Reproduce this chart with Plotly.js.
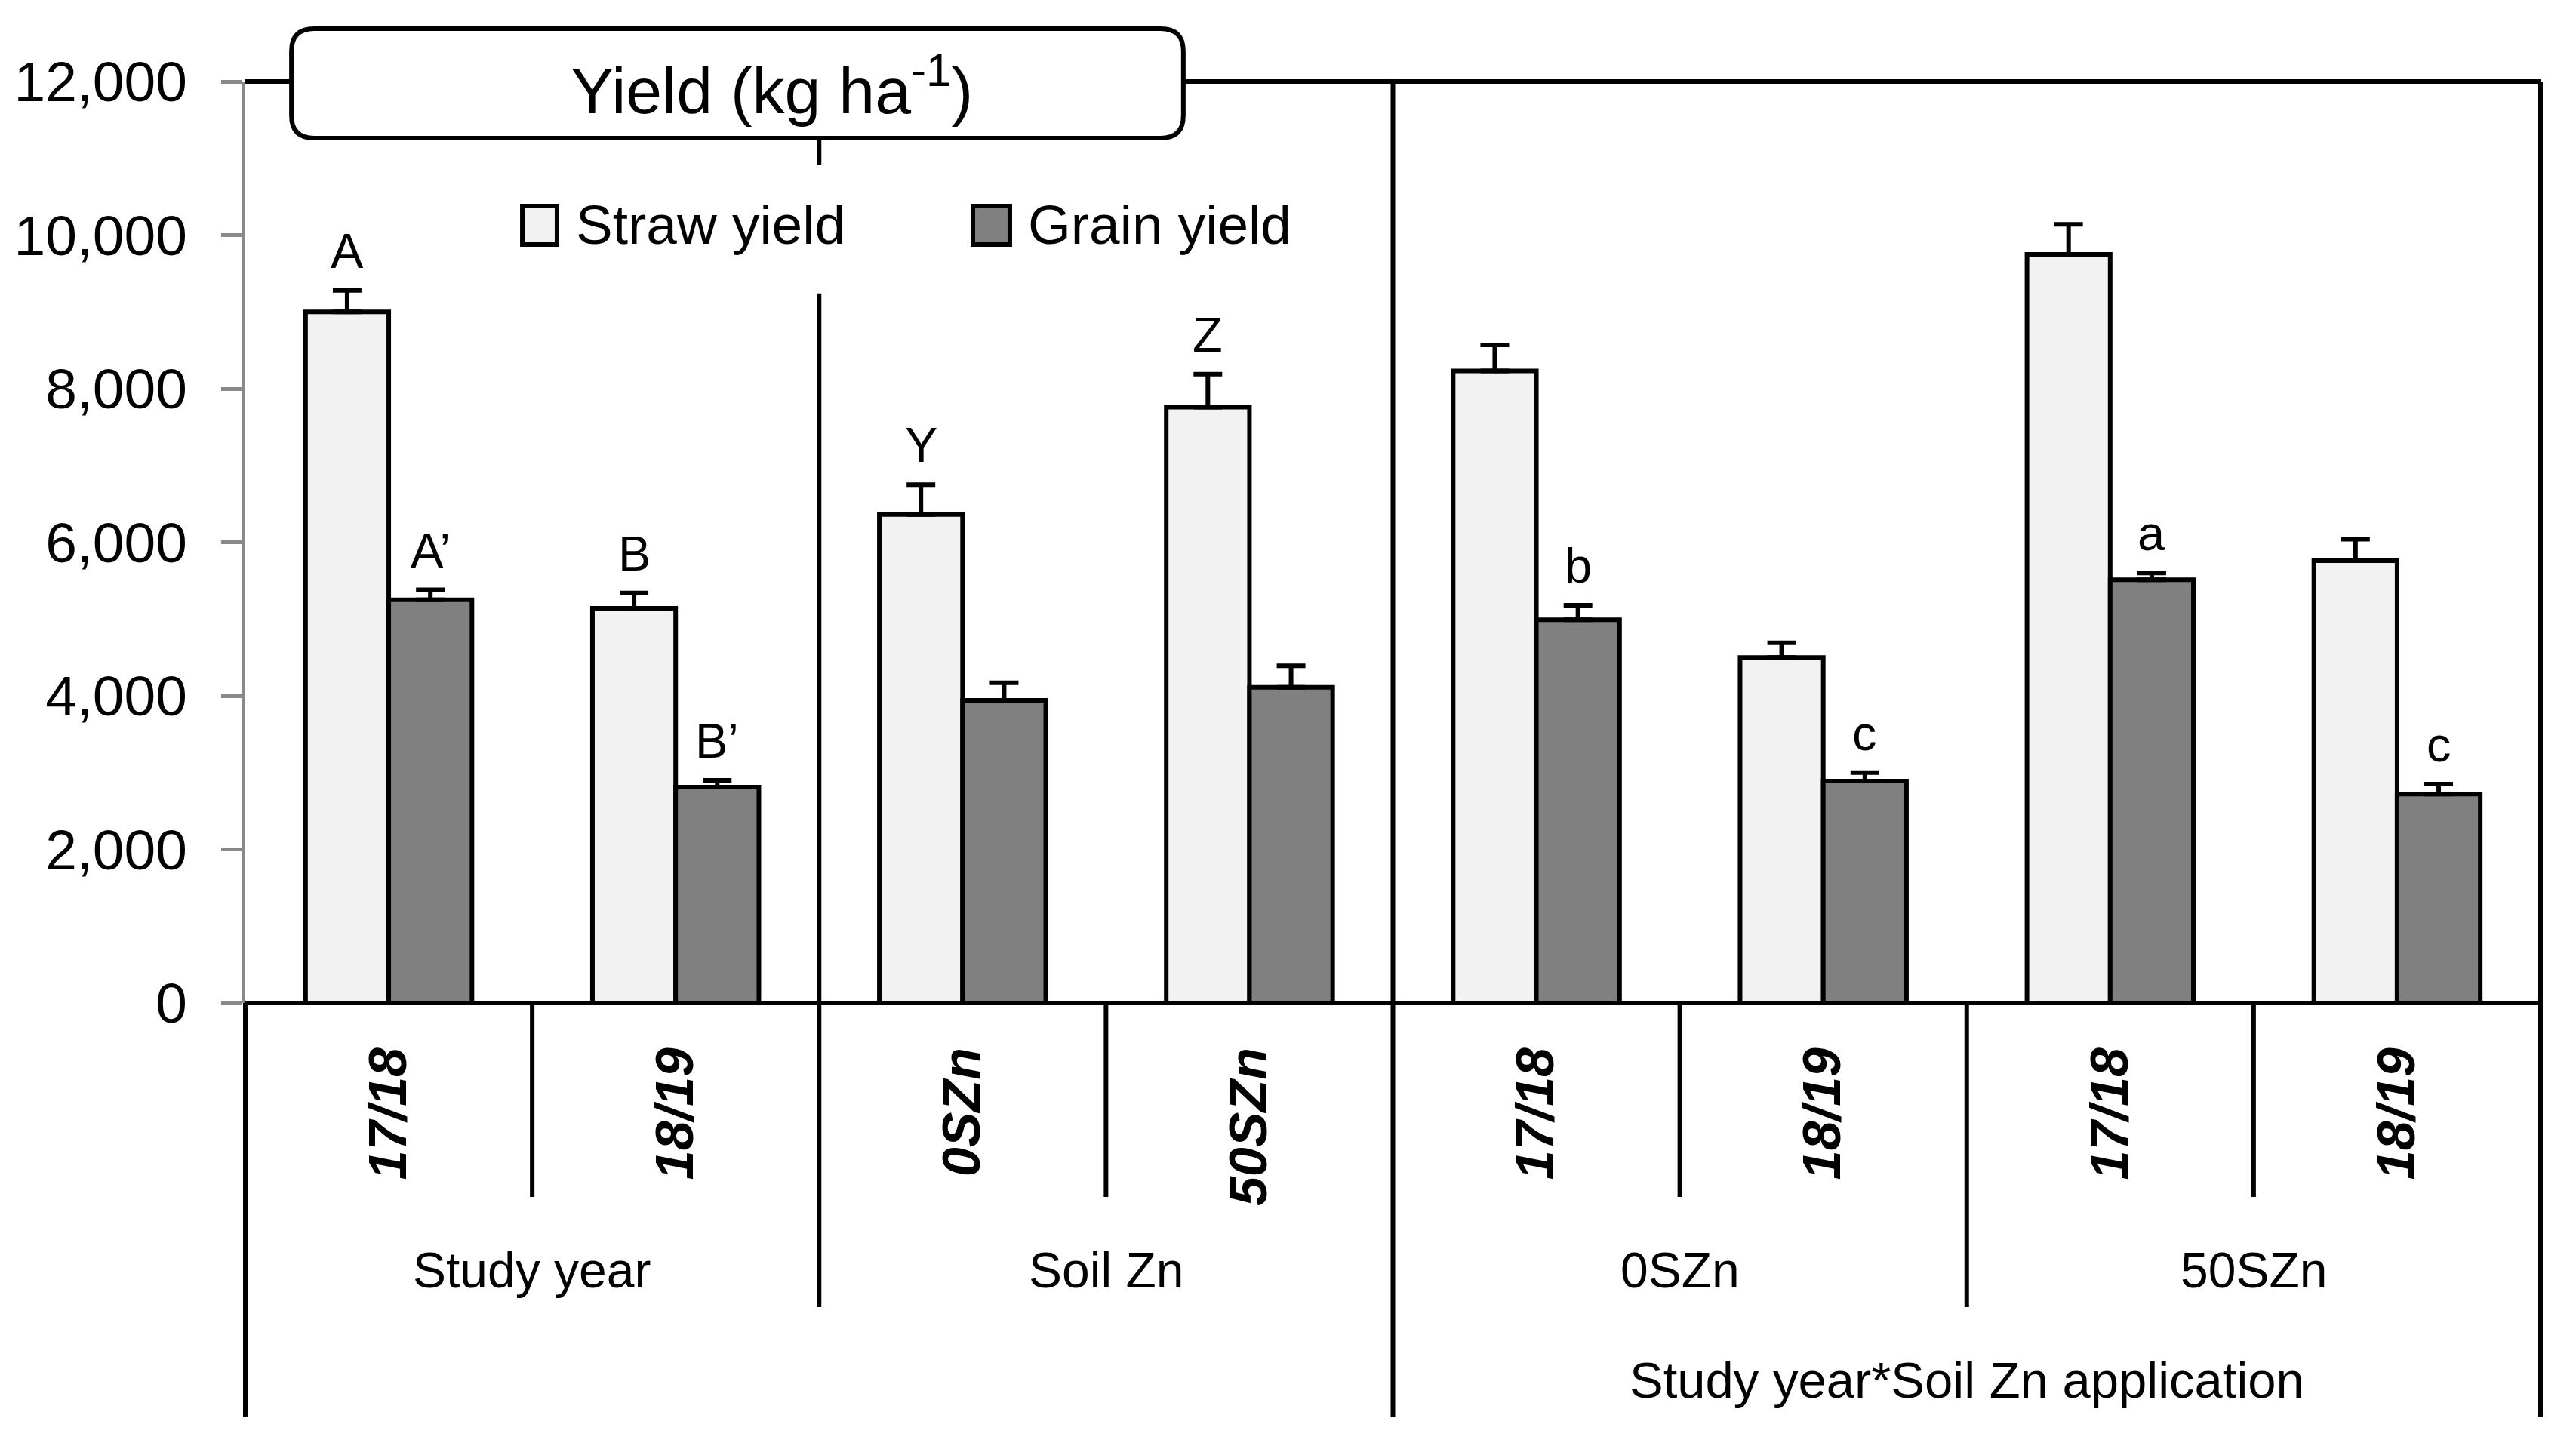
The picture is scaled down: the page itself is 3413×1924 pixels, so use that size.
<!DOCTYPE html>
<html>
<head>
<meta charset="utf-8">
<script src="https://cdn.plot.ly/plotly-3.0.1.min.js"></script>
<style>html,body{margin:0;padding:0;background:#fff;}#chart{width:3413px;height:1924px;}</style>
</head>
<body>
<div id="chart"></div>
<script>
// ---- data ----
const tickLabels  = ['17/18','18/19','0SZn','50SZn','17/18','18/19','17/18','18/19'];
const groupLabels = ['Study year','Soil Zn','0SZn','50SZn'];
const groupCenters = [0.5, 2.5, 4.5, 6.5];
const outerLabel = 'Study year*Soil Zn application';
const outerCenter = 5.5;
const seriesNames = ['Straw yield','Grain yield'];
const straw    = [9000, 5140, 6360, 7760, 8230, 4500, 9750, 5760];
const strawErr = [280, 200, 390, 430, 340, 190, 390, 280];
const grain    = [5250, 2810, 3940, 4110, 4990, 2890, 5510, 2720];
const grainErr = [130, 90, 230, 280, 190, 110, 90, 130];
const strawLetters = ['A','B','Y','Z','','','',''];
const grainLetters = ['A\u2019','B\u2019','','','b','c','a','c'];
const yTicks = [0, 2000, 4000, 6000, 8000, 10000, 12000];

// ---- styling ----
const F = 'Liberation Sans, Arial, sans-serif';
const strawColor = '#f2f2f2', grainColor = '#808080';
const BARGAP = 0.42;
const xs = tickLabels.map((_, i) => i);
const nCat = tickLabels.length;
const px = v => (v + 0.5) / nCat; // axis value -> paper x

const traces = [
  {type:'bar', name:seriesNames[0], x:xs, y:straw,
   marker:{color:strawColor, line:{color:'#000', width:6}},
   error_y:{type:'data', symmetric:false, array:strawErr, arrayminus:straw.map(()=>0), color:'#000', thickness:6, width:19},
   showlegend:false, hoverinfo:'skip'},
  {type:'bar', name:seriesNames[1], x:xs, y:grain,
   marker:{color:grainColor, line:{color:'#000', width:6}},
   error_y:{type:'data', symmetric:false, array:grainErr, arrayminus:grain.map(()=>0), color:'#000', thickness:6, width:19},
   showlegend:false, hoverinfo:'skip'}
];

const shapes = [];
const line = (x0,y0,x1,y1,w,c) => shapes.push({type:'line', xref:'paper', yref:'paper', x0, y0, x1, y1, line:{color:c||'#000', width:w||6}, layer:'above'});
// inner separators
[1.5, 3.5].forEach(v => line(px(v), 0, px(v), 1));
// frame
line(0, 1, 1, 1);
line(1, 0, 1, 1);
line(0, 0, 1, 0);
// below-axis dividers
[0.5, 2.5, 4.5, 6.5].forEach(v => line(px(v), 0, px(v), -0.2105));
[1.5, 5.5].forEach(v => line(px(v), 0, px(v), -0.330));
[-0.5, 3.5, 7.5].forEach(v => line(px(v), 0, px(v), -0.4496));

// title box (rounded)
(function(){
  const x0=0.0201, x1=0.4087, y0=0.9386, y1=1.0573, rx=0.0099, ry=0.0246;
  const p = `M${x0+rx},${y0} L${x1-rx},${y0} Q${x1},${y0} ${x1},${y0+ry} L${x1},${y1-ry} Q${x1},${y1} ${x1-rx},${y1} L${x0+rx},${y1} Q${x0},${y1} ${x0},${y1-ry} L${x0},${y0+ry} Q${x0},${y0} ${x0+rx},${y0} Z`;
  shapes.push({type:'path', xref:'paper', yref:'paper', path:p, fillcolor:'#fff', line:{color:'#000', width:6}, layer:'above'});
})();
// custom legend background and swatches
shapes.push({type:'rect', xref:'paper', yref:'paper', x0:0.112, x1:0.47, y0:0.77, y1:0.91, fillcolor:'#fff', line:{width:0}, layer:'above'});
shapes.push({type:'rect', xref:'paper', yref:'paper', x0:0.1207, x1:0.1358, y0:0.8231, y1:0.8649, fillcolor:strawColor, line:{color:'#000', width:6}, layer:'above'});
shapes.push({type:'rect', xref:'paper', yref:'paper', x0:0.3170, x1:0.3331, y0:0.8231, y1:0.8649, fillcolor:grainColor, line:{color:'#000', width:6}, layer:'above'});

const annotations = [];
annotations.push({xref:'paper', yref:'paper', x:0.2295, y:0.995, text:'Yield (kg ha<sup>-1</sup>)', showarrow:false, xanchor:'center', yanchor:'middle', font:{family:F, size:86, color:'#000'}});
annotations.push({xref:'paper', yref:'paper', x:0.1434, y:0.8444, text:seriesNames[0], showarrow:false, xanchor:'left', yanchor:'middle', font:{family:F, size:73, color:'#000'}});
annotations.push({xref:'paper', yref:'paper', x:0.3404, y:0.8444, text:seriesNames[1], showarrow:false, xanchor:'left', yanchor:'middle', font:{family:F, size:73, color:'#000'}});
const off = (1 - BARGAP) / 4;
xs.forEach(i => {
  if (strawLetters[i]) annotations.push({x:i-off, y:straw[i]+strawErr[i], text:strawLetters[i], showarrow:false, yanchor:'bottom', yshift:14, font:{family:F, size:65, color:'#000'}});
  if (grainLetters[i]) annotations.push({x:i+off, y:grain[i]+grainErr[i], text:grainLetters[i], showarrow:false, yanchor:'bottom', yshift:14, font:{family:F, size:65, color:'#000'}});
});
groupLabels.forEach((g, k) => annotations.push({x:groupCenters[k], xref:'x', yref:'paper', y:-0.290, text:g, showarrow:false, yanchor:'middle', font:{family:F, size:66, color:'#000'}}));
annotations.push({x:outerCenter, xref:'x', yref:'paper', y:-0.4095, text:outerLabel, showarrow:false, yanchor:'middle', font:{family:F, size:67, color:'#000'}});

const layout = {
  width:3413, height:1924,
  margin:{l:325, r:47, t:108, b:595, pad:0},
  paper_bgcolor:'#fff', plot_bgcolor:'#fff',
  barmode:'group', bargap:BARGAP, bargroupgap:0,
  showlegend:false,
  xaxis:{range:[-0.5, 7.5], tickmode:'array', tickvals:xs, ticktext:tickLabels, tickangle:-90,
         ticks:'', showline:false, showgrid:false, zeroline:false, ticklabelstandoff:44,
         tickfont:{family:F, size:70, color:'#000', weight:'bold', style:'italic'}},
  yaxis:{range:[0, 12000], tickmode:'array', tickvals:yTicks, tickformat:',', ticks:'outside', ticklen:27, tickwidth:5,
         tickcolor:'#898989', showline:true, linecolor:'#898989', linewidth:5, showgrid:false, zeroline:false,
         ticklabelstandoff:30, tickfont:{family:F, size:75, color:'#000'}},
  shapes, annotations
};
Plotly.newPlot('chart', traces, layout, {staticPlot:true});
</script>
</body>
</html>
